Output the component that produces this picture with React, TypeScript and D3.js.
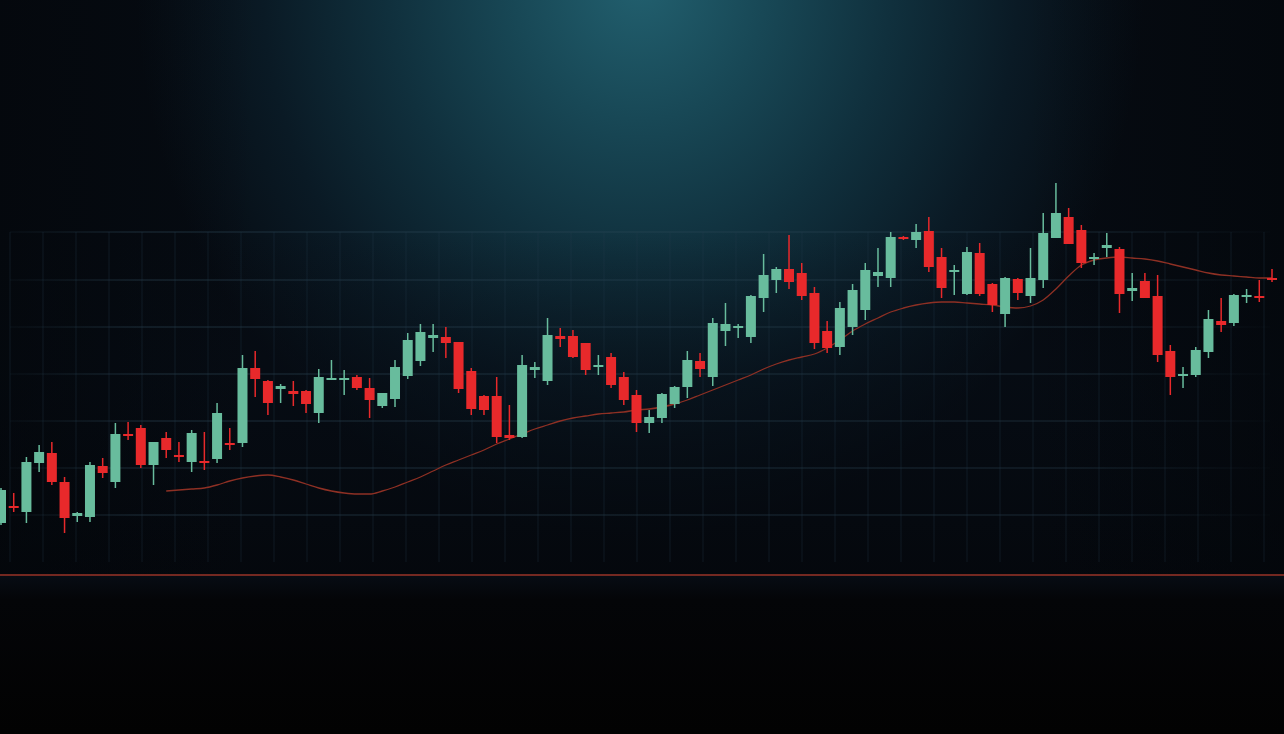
import React from "react";
import * as d3 from "d3";

const W = 1284;
const H = 734;

// OHLC values (price units)
const opens = [38.5, 47, 44, 68.5, 73.5, 59, 42, 41.5, 67, 59, 83, 86, 67.5, 81, 72.5, 69, 69.5, 70.5, 78.5, 78.5, 116, 109.5, 105.5, 104.5, 104.5, 93.5, 110, 110, 111.5, 106, 97, 100.5, 112, 119.5, 131, 131.5, 129, 114.5, 102, 102, 82.5, 81.5, 115, 109.5, 132, 132, 128.5, 116.5, 121.5, 111.5, 102.5, 88.5, 91, 98, 106.5, 119.5, 111.5, 134.5, 136, 131.5, 151, 160, 165.5, 163.5, 153.5, 134.5, 126.5, 136.5, 145, 162, 161, 181.5, 180, 184.5, 171.5, 164, 153, 173.5, 158, 143, 160.5, 152, 160, 181, 191.5, 185, 170.5, 176, 175.5, 154.5, 159.5, 152, 124.5, 112, 112.5, 124, 139.5, 138.5, 152, 152, 161];
const highs = [56, 53.5, 71.5, 77.5, 79, 61.5, 44, 69, 71, 88.5, 89, 87.5, 79, 84, 79, 85, 84, 98.5, 86, 122.5, 124.5, 110, 108, 109.5, 105, 115.5, 120, 115, 112.5, 111, 103.5, 120, 133.5, 138, 138, 136.5, 129, 116, 102.5, 111.5, 97.5, 122.5, 119, 141, 136, 135, 128.5, 122.5, 123.5, 114, 105, 95, 103.5, 107, 124.5, 123.5, 141, 148.5, 138, 152.5, 173, 166.5, 182.5, 168.5, 156.5, 139.5, 149, 158, 168.5, 176, 184, 182, 188, 191.5, 176, 167.5, 176.5, 178.5, 158.5, 161.5, 161, 176, 193.5, 208.5, 196, 187.5, 173.5, 183.5, 176.5, 163.5, 163.5, 162.5, 127.5, 116.5, 126.5, 145, 151, 153, 155.5, 160, 165.5];
const lows = [37.5, 44, 38.5, 64, 57.5, 33.5, 39, 39, 61, 56, 80, 66, 57.5, 71, 69, 64, 65, 68.5, 75, 76.5, 101.5, 92.5, 98.5, 97, 93.5, 88.5, 110, 102.5, 105, 91, 96, 96.5, 110.5, 117, 124, 121, 103.5, 92.5, 92.5, 78.5, 80, 81, 111, 107.5, 126.5, 121, 112.5, 112.5, 106, 97.5, 84, 83.5, 88.5, 96, 101, 111.5, 107, 127, 131, 128.5, 144, 153.5, 155.5, 150, 125.5, 123.5, 122.5, 132.5, 140, 156.5, 156.5, 180, 176, 164, 151, 152.5, 152.5, 152, 144, 136.5, 150, 148.5, 156, 181, 178, 166, 167.5, 171.5, 143.5, 149.5, 151, 119, 102.5, 106, 111.5, 121, 134, 137, 148.5, 149, 159];
const closes = [55, 46, 69, 74, 59, 41, 43.5, 67.5, 63.5, 83, 82, 67.5, 79, 75, 71.5, 83.5, 68.5, 93.5, 77.5, 116, 110.5, 98.5, 107, 103, 98, 111.5, 111, 111, 106, 100, 103.5, 116.5, 130, 134, 132.5, 128.5, 105.5, 95.5, 95, 81.5, 81, 117.5, 116.5, 132.5, 130.5, 121.5, 115, 117.5, 107.5, 100, 88.5, 91.5, 103, 106.5, 120, 115.5, 138.5, 138, 137, 152, 162.5, 165.5, 159, 152, 128.5, 126, 146, 155, 165, 164, 181.5, 180.5, 184, 166.5, 156, 165, 174, 153, 147.5, 161, 153.5, 161, 183.5, 193.5, 178, 168.5, 171.5, 177.5, 153, 156, 151, 122.5, 111.5, 113, 125, 140.5, 137.5, 152.5, 152.5, 151.5, 160.5];

// Moving average, starting at candle index 13
const maStart = 13;
const maValues = [54.5, 55, 55.5, 56, 57.5, 59.5, 61, 62, 62.5, 61.5, 60, 58, 56, 54.5, 53.5, 53, 53, 54.5, 56.5, 59, 61.5, 64.5, 67.5, 70, 72.5, 75, 78, 80.5, 83, 85.5, 87.5, 89.5, 91, 92, 93, 93.5, 94, 95, 95.5, 96.5, 98, 100, 102.5, 105, 107.5, 110, 112.5, 115.5, 118, 120, 121.5, 123, 126, 130, 134.5, 138, 141, 144, 146, 147.5, 148.5, 149, 149, 148.5, 148, 147.5, 146.5, 146, 147, 150, 155.5, 162, 167.5, 170, 171, 171.5, 171, 170.5, 169.5, 168, 166.5, 165, 163.5, 162.5, 162, 161.5, 161, 161];

// horizontal grid levels (price units)
const gridLevels = [42.5, 66, 89.5, 113, 136.5, 160, 184];

const GREEN = "#68bc9d";
const RED = "#e8292b";

export default function App() {
  const n = opens.length;
  const x = d3.scaleLinear().domain([0, n - 1]).range([1, 1272]);
  const y = d3.scaleLinear().domain([0, 300]).range([600, 0]);

  const candles = d3.range(n).map((i) => ({
    i,
    o: opens[i],
    h: highs[i],
    l: lows[i],
    c: closes[i],
  }));

  const maPts = maValues.map((v, k) => [maStart + k, v] as [number, number]);
  const maLine = d3
    .line<[number, number]>()
    .x((d) => x(d[0]))
    .y((d) => y(d[1]))
    .curve(d3.curveMonotoneX);

  const gridX = d3.range(10, W, 33);
  const gridTop = y(184);
  const gridBottom = 562;
  const bw = 10;

  return (
    <svg
      width={W}
      height={H}
      style={{ position: "absolute", left: 0, top: 0, display: "block" }}
    >
      <defs>
        <radialGradient
          id="glow"
          cx="640"
          cy="-20"
          r="560"
          gradientUnits="userSpaceOnUse"
          gradientTransform="translate(640,-20) scale(0.9,1) translate(-640,20)"
        >
          <stop offset="0" stopColor="#22606f" />
          <stop offset="0.25" stopColor="#184856" />
          <stop offset="0.5" stopColor="#10303d" />
          <stop offset="0.75" stopColor="#0a1a25" />
          <stop offset="1" stopColor="#060b12" />
        </radialGradient>
        <linearGradient id="bottomFade" x1="0" y1="0" x2="0" y2="1">
          <stop offset="0" stopColor="#070c14" />
          <stop offset="0.15" stopColor="#040508" />
          <stop offset="1" stopColor="#020202" />
        </linearGradient>
        <linearGradient id="chartDark" x1="0" y1="0" x2="0" y2="1">
          <stop offset="0" stopColor="#060c14" stopOpacity="0" />
          <stop offset="0.4" stopColor="#060c14" stopOpacity="0.5" />
          <stop offset="1" stopColor="#04070c" stopOpacity="0.9" />
        </linearGradient>
        <linearGradient
          id="gridFadeH"
          x1="10"
          y1="0"
          x2="1270"
          y2="0"
          gradientUnits="userSpaceOnUse"
        >
          <stop offset="0" stopColor="#2c4656" stopOpacity="0.15" />
          <stop offset="0.1" stopColor="#2c4656" stopOpacity="0.6" />
          <stop offset="0.85" stopColor="#2c4656" stopOpacity="0.5" />
          <stop offset="1" stopColor="#2c4656" stopOpacity="0.05" />
        </linearGradient>
        <linearGradient id="sideShade" x1="0" y1="0" x2="1" y2="0">
          <stop offset="0" stopColor="#03060a" stopOpacity="0.6" />
          <stop offset="0.2" stopColor="#03060a" stopOpacity="0" />
          <stop offset="0.8" stopColor="#03060a" stopOpacity="0" />
          <stop offset="1" stopColor="#03060a" stopOpacity="0.6" />
        </linearGradient>
      </defs>

      <rect x={0} y={0} width={W} height={H} fill="#060b12" />
      <rect x={0} y={0} width={W} height={H} fill="url(#glow)" />
      <rect x={0} y={230} width={W} height={350} fill="url(#chartDark)" />
      <rect x={0} y={0} width={W} height={580} fill="url(#sideShade)" />
      <rect x={0} y={576} width={W} height={H - 576} fill="url(#bottomFade)" />

      {/* grid */}
      <g>
        {gridLevels.map((v) => (
          <line
            key={"h" + v}
            x1={10}
            x2={1270}
            y1={y(v)}
            y2={y(v)}
            stroke="url(#gridFadeH)"
            strokeWidth={1}
          />
        ))}
        {gridX.map((gx) => (
          <line
            key={"v" + gx}
            x1={gx}
            x2={gx}
            y1={gridTop}
            y2={gridBottom}
            stroke="#22394a"
            strokeOpacity={0.35}
            strokeWidth={1}
          />
        ))}
      </g>

      {/* baseline */}
      <line x1={0} x2={W} y1={575} y2={575} stroke="#9a3428" strokeWidth={1.6} />

      {/* moving average */}
      <path
        d={maLine(maPts) || ""}
        fill="none"
        stroke="#8e3024"
        strokeWidth={1.3}
      />

      {/* candles */}
      <g>
        {candles.map((d) => {
          const up = d.c >= d.o;
          const col = up ? GREEN : RED;
          const cx = x(d.i);
          const top = y(Math.max(d.o, d.c));
          const bot = y(Math.min(d.o, d.c));
          const bh = Math.max(2, bot - top);
          return (
            <g key={d.i}>
              <line
                x1={cx}
                x2={cx}
                y1={y(d.h)}
                y2={y(d.l)}
                stroke={col}
                strokeWidth={1.5}
              />
              <rect
                x={cx - bw / 2}
                y={top}
                width={bw}
                height={bh}
                fill={col}
              />
            </g>
          );
        })}
      </g>
    </svg>
  );
}
